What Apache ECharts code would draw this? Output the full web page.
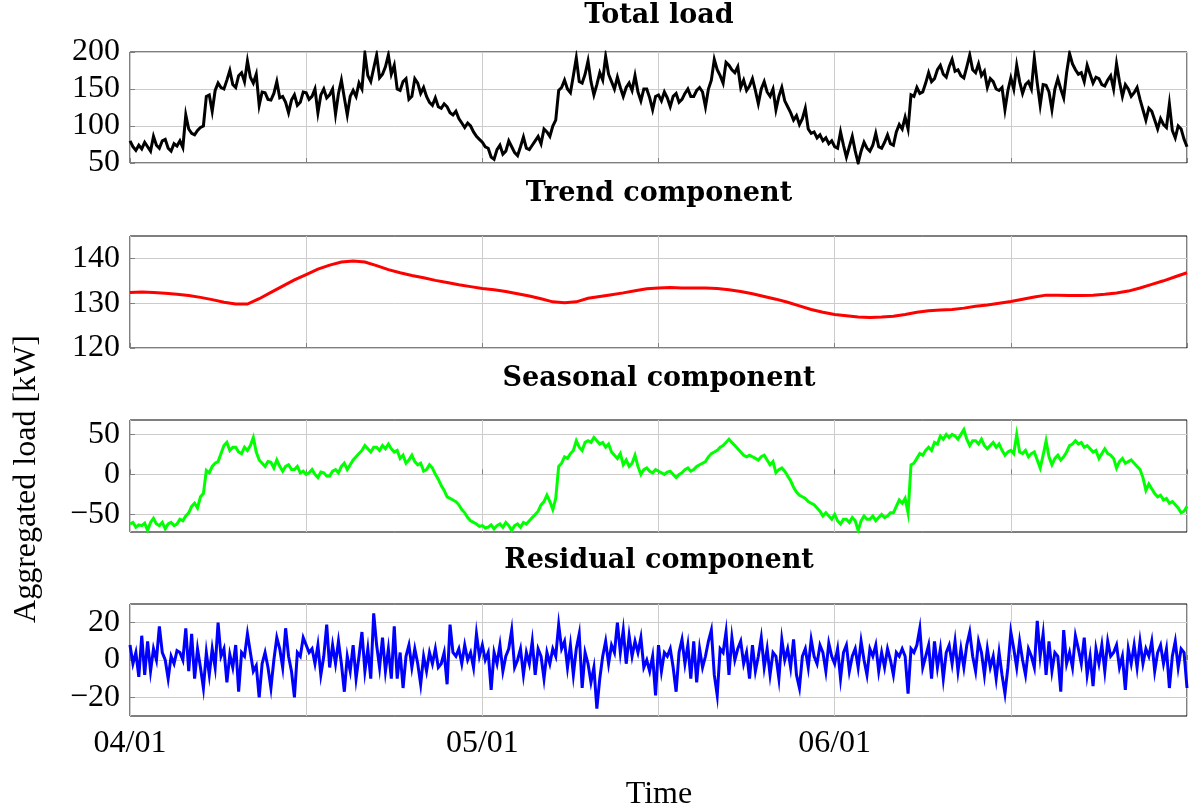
<!DOCTYPE html>
<html>
<head>
<meta charset="utf-8">
<script src="https://cdn.jsdelivr.net/npm/echarts@6/dist/echarts.min.js"></script>
<style>html,body{margin:0;padding:0;background:#fff}#c{width:1195px;height:810px}</style>
</head>
<body>
<div id="c"></div>
<script>
// ---- data (x = days since 04/01; noisy series sampled every 6 hours) ----
const xStep = 0.25;
const xTickValues = [0, 30, 60];
const xTickLabels = ['04/01', '05/01', '06/01'];
const panelTitles = ['Total load', 'Trend component', 'Seasonal component', 'Residual component'];
const yTicksTotal = [50, 100, 150, 200];
const yTicksTrend = [120, 130, 140];
const yTicksSeasonal = [-50, 0, 50];
const yTicksResidual = [-20, 0, 20];

// one row per day: 00h, 06h, 12h, 18h
const totalLoad = [
  80, 72, 67, 74,   69, 78, 72, 66,   86, 74, 70, 80,   82, 70, 66, 76,   73, 80, 71, 115,
  96, 90, 88, 94,   98, 100, 140, 142, 120, 148, 158, 152, 150, 162, 175, 156, 152, 168, 172, 160,
  188, 166, 158, 170, 128, 146, 145, 136, 135, 144, 160, 138, 140, 132, 118, 135, 142, 128, 132, 146,
  145, 136, 140, 150, 118, 142, 150, 138, 142, 150, 116, 144, 162, 138, 115, 140, 148, 140, 158, 150,
  198, 168, 160, 178, 196, 165, 170, 180, 196, 170, 182, 150, 148, 160, 164, 136, 140, 164, 158, 144,
  152, 140, 132, 128, 138, 126, 124, 130, 126, 118, 115, 120, 110, 104, 98, 104,  100, 92, 86, 82,
  78, 72, 70, 58,   55, 68, 74, 62,   66, 80, 72, 64,   60, 72, 85, 70,   68, 74, 80, 86,
  76, 96, 92, 86,   100, 108, 148, 152, 162, 150, 145, 168, 192, 160, 158, 170, 188, 160, 142, 156,
  172, 162, 194, 170, 160, 150, 166, 152, 140, 152, 158, 148, 168, 146, 134, 150, 150, 138, 122, 140,
  142, 134, 146, 138, 126, 140, 144, 132, 136, 144, 150, 140, 140, 148, 152, 146, 126, 150, 162, 190,
  176, 168, 158, 186, 182, 176, 172, 180, 152, 162, 148, 154, 164, 148, 130, 150, 160, 146, 140, 150,
  122, 140, 152, 134, 126, 118, 108, 114, 102, 110, 124, 96,  90, 92, 84, 88,   80, 84, 76, 80,
  72, 70, 92, 74,   58, 72, 86, 66,   50, 66, 78, 70,   66, 74, 90, 72,   70, 78, 88, 76,
  74, 92, 102, 96,  112, 96, 142, 140, 152, 144, 146, 158, 172, 160, 164, 176, 182, 170, 166, 180,
  190, 174, 176, 168, 165, 180, 196, 176, 172, 184, 168, 174, 152, 164, 160, 150, 148, 152, 122, 148,
  165, 150, 182, 160, 144, 156, 160, 150, 192, 158, 128, 156, 155, 146, 122, 150, 164, 150, 138, 172,
  198, 184, 176, 170, 172, 160, 182, 170, 158, 166, 164, 156, 154, 162, 168, 150, 184, 160, 140, 156,
  150, 140, 145, 152, 136, 122, 108, 124, 120, 108, 96, 110,  102, 98, 130, 94,  84, 100, 96, 82,
  72
];

// trend sampled once per day
const trendStep = 1;
const trend = [
  132.4, 132.5, 132.4, 132.2, 132.0, 131.7, 131.3, 130.8, 130.2, 129.8,
  129.8, 131.0, 132.4, 133.8, 135.2, 136.4, 137.6, 138.5, 139.2, 139.4,
  139.2, 138.4, 137.5, 136.8, 136.2, 135.7, 135.1, 134.6, 134.1, 133.7,
  133.3, 133.0, 132.6, 132.1, 131.6, 131.0, 130.3, 130.1, 130.3, 131.1,
  131.5, 131.9, 132.3, 132.8, 133.2, 133.4, 133.5, 133.4, 133.4, 133.4,
  133.3, 133.0, 132.6, 132.1, 131.5, 130.9, 130.2, 129.4, 128.6, 128.0,
  127.5, 127.2, 126.9, 126.8, 126.9, 127.1, 127.5, 128.0, 128.3, 128.5,
  128.6, 128.9, 129.3, 129.6, 130.0, 130.4, 130.9, 131.4, 131.8, 131.8,
  131.7, 131.7, 131.8, 132.0, 132.3, 132.7, 133.4, 134.2, 135.0, 135.9, 136.8
];

const seasonal = [
  -62, -60, -66, -63, -64, -61, -70, -60, -55, -62, -64, -60, -68, -62, -60, -64, -62, -56, -58, -52,
  -48, -40, -36, -42, -28, -24, 5, 2,   10, 14, 16, 26,   36, 40, 30, 34,   34, 28, 26, 34,
  30, 36, 46, 28,   18, 14, 10, 16,   15, 8, 18, 10,    4, 10, 12, 6,     6, 10, 2, 4,
  0, 2, 6, 0,       -4, 3, 2, -2,     -2, 4, 6, 2,      10, 14, 6, 12,    18, 22, 26, 30,
  36, 32, 28, 34,   34, 30, 36, 32,   38, 32, 28, 30,   20, 24, 14, 18,   24, 16, 12, 14,
  4, 6, 12, 8,      0, -6, -14, -20,  -28, -30, -32, -34, -38, -44, -48, -54, -58, -60, -62, -65,
  -64, -67, -66, -63, -68, -64, -62, -66, -60, -64, -70, -64, -62, -66, -60, -62, -58, -54, -50, -46,
  -38, -34, -26, -34, -44, -30, 10, 14, 22, 20, 26, 30,   42, 34, 30, 40,   42, 40, 46, 42,
  38, 40, 34, 38,   28, 24, 20, 26,   12, 18, 10, 14,   24, 10, 0, 6,     8, 4, 2, 6,
  4, 2, 0, 3,       4, 0, -4, 0,      2, 6, 8, 4,       6, 10, 12, 14,    16, 22, 26, 28,
  30, 34, 36, 40,   44, 40, 36, 32,   28, 24, 22, 24,   22, 20, 18, 22,   24, 18, 12, 16,
  2, 6, 8, 4,       -2, -8, -16, -22, -26, -28, -30, -34, -36, -38, -42, -46, -52, -48, -52, -56,
  -50, -58, -62, -56, -56, -60, -54, -58, -70, -58, -52, -56, -56, -52, -58, -54, -50, -54, -52, -48,
  -48, -40, -32, -36, -30, -48, 12, 14, 20, 26, 24, 30,   34, 30, 40, 38,   48, 44, 50, 46,
  50, 48, 44, 50,   56, 44, 36, 42,   42, 38, 44, 36,   32, 36, 40, 34,   38, 30, 24, 28,
  30, 26, 50, 28,   26, 30, 22, 26,   28, 18, 8, 24,    42, 22, 12, 20,   24, 18, 22, 28,
  36, 38, 42, 38,   40, 34, 36, 32,   28, 30, 20, 26,   32, 26, 24, 20,   8, 16, 20, 14,
  16, 18, 14, 10,   6, -4, -20, -12,  -18, -24, -28, -26, -32, -30, -36, -34, -38, -42, -48, -46,
  -40
];

const residual = [
  8, -2, 4, -9,     13, -8, 10, -6,   6, 0, 18, 4,      0, -10, 2, -2,    5, 4, 0, 17,
  -6, 14, -10, 6,   -4, -15, 4, -8,   6, -4, 20, 2,     6, -12, 3, -4,    8, -17, 4, 2,
  14, 4, -6, -3,    -20, -2, 4, -4,   -15, 0, 12, 6,    -4, 17, 2, -6,    -20, 4, 2, 12,
  8, 4, 6, -2,      8, -8, 2, 19,     -4, 8, -2, 10,    -2, -17, 2, -6,   8, -10, 2, 15,
  -6, 6, -10, 25,   8, -4, 12, -6,    6, -10, 18, -10,  4, -15, 2, 8,     -4, 6, -2, -13,
  2, -6, 4, -2,     6, -4, -2, 4,     -13, 19, 4, 2,    6, -2, 8, 0,      4, -4, 14, 2,
  8, 0, 4, -16,     4, -2, 8, -6,     2, 6, 16, -4,     0, 6, -8, 4,      -2, 10, -8, 6,
  2, -10, 4, -2,    6, 2, 19, 6,      10, -4, 8, -8,    6, 14, -15, 4,    -2, -12, -4, -26,
  -10, 2, 10, -2,   8, 4, 20, 4,      16, -2, 13, 2,    10, 4, 12, -4,    0, -6, 2, -19,
  8, -6, 4, 2,      6, -4, -17, 4,    11, -2, 8, -10,   10, -12, 6, -4,   2, 10, 16, -8,
  -19, 6, 4, 15,    -8, 12, 0, 6,     10, -2, 4, -10,   8, -6, 2, 12,     -4, 6, -8, 4,
  2, -10, 11, 0,    6, -4, 11, -8,    -15, 2, 6, -4,    11, 2, -2, 8,     4, -6, 9, 2,
  -2, 6, -10, 4,    8, -6, 2, 6,      -4, 10, 0, -8,    6, 2, 8, -6,      4, -4, 6, 0,
  -8, 4, 2, 6,      2, -18, 6, 4,     8, 17, -4, 2,     8, -10, 10, -4,   6, -10, 4, 8,
  -2, 10, -6, 6,    -4, 8, 15, 2,     -6, 10, 4, -8,    6, -4, 2, -10,    4, -8, -18, -4,
  15, 6, -4, 10,    0, -8, 6, 2,      -4, 21, 2, 14,    -8, 10, -6, 4,    2, -17, 16, -2,
  4, -4, 13, 6,     -2, 12, -8, 2,    -14, 6, -2, 8,    -6, 10, 2, 4,     8, -4, 2, -16,
  6, -2, 8, -4,     10, -2, 6, 2,     10, -6, 4, 8,     -2, 6, -15, 2,    10, -4, 6, 4,
  -15
];

// ---- chart ----
const FONT = "'Liberation Serif', 'Times New Roman', serif";
const TFONT = "'DejaVu Serif', 'Liberation Serif', serif";
const grids = [
  {top: 52, height: 111},
  {top: 236, height: 112},
  {top: 420, height: 112},
  {top: 604, height: 112}
];
const titleY = [16, 194, 379, 561];
const yRanges = [[50, 200], [120, 145], [-72, 68], [-30, 30]];
const yTicks = [yTicksTotal, yTicksTrend, yTicksSeasonal, yTicksResidual];
const colors = ['#000000', '#ff0000', '#00ff00', '#0000ff'];
const widths = [3, 3, 3, 3];

function pairs(arr, step) { return arr.map((v, i) => [i * step, v]); }
const seriesData = [pairs(totalLoad, xStep), pairs(trend, trendStep), pairs(seasonal, xStep), pairs(residual, xStep)];

const chart = echarts.init(document.getElementById('c'), null, {renderer: 'canvas'});
const option = {
  animation: false,
  backgroundColor: '#ffffff',
  grid: grids.map(g => ({left: 130, width: 1057, top: g.top, height: g.height, show: true,
    borderColor: '#000', borderWidth: 1, backgroundColor: 'transparent'})),
  xAxis: grids.map((g, i) => ({
    type: 'value', gridIndex: i, min: 0, max: 90, interval: 15,
    axisLine: {show: false},
    axisTick: {show: true, inside: true, length: 5, lineStyle: {color: '#808080', width: 1}},
    splitLine: {show: true, lineStyle: {color: '#cccccc', width: 1}},
    axisLabel: {show: i === 3, margin: 12, fontFamily: FONT, fontSize: 32, color: '#000',
      formatter: v => { const k = xTickValues.indexOf(v); return k >= 0 ? xTickLabels[k] : ''; }}
  })),
  yAxis: grids.map((g, i) => ({
    type: 'value', gridIndex: i, min: yRanges[i][0], max: yRanges[i][1],
    axisLine: {show: false},
    axisTick: {show: true, inside: true, length: 5, customValues: yTicks[i], lineStyle: {color: '#808080', width: 1}},
    splitLine: {show: true, lineStyle: {color: '#cccccc', width: 1}},
    axisLabel: {customValues: yTicks[i], margin: 10, fontFamily: FONT, fontSize: 32, color: '#000',
      formatter: v => (v < 0 ? '\u2212' + Math.abs(v) : String(v))}
  })),
  series: seriesData.map((d, i) => ({
    type: 'line', xAxisIndex: i, yAxisIndex: i, data: d, showSymbol: false, symbol: 'none',
    silent: true, lineStyle: {color: colors[i], width: widths[i], join: 'miter'}, clip: true
  })),
  graphic: [
    ...panelTitles.map((t, i) => ({type: 'text', x: 659, y: titleY[i],
      style: {text: t, font: 'bold 27px ' + TFONT, fill: '#000', textAlign: 'center', textVerticalAlign: 'middle'}})),
    {type: 'text', x: 27, y: 479, rotation: Math.PI / 2,
      style: {text: 'Aggregated load [kW]', font: '32px ' + FONT, fill: '#000', textAlign: 'center', textVerticalAlign: 'middle'}},
    {type: 'text', x: 659, y: 795,
      style: {text: 'Time', font: '32px ' + FONT, fill: '#000', textAlign: 'center', textVerticalAlign: 'middle'}}
  ]
};
chart.setOption(option);
</script>
</body>
</html>
